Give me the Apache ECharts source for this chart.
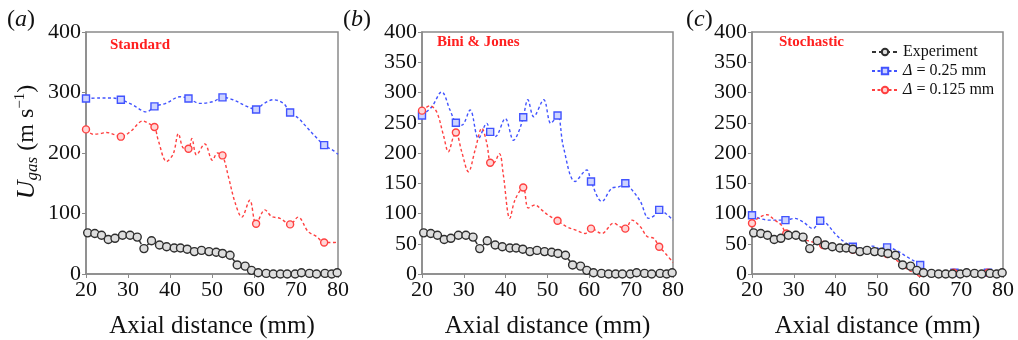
<!DOCTYPE html>
<html>
<head>
<meta charset="utf-8">
<script src="https://cdn.jsdelivr.net/npm/echarts@6/dist/echarts.min.js"></script>
<style>
  html, body { margin: 0; padding: 0; background: #fff; }
  #chart { width: 1018px; height: 340px; }
</style>
</head>
<body>
<div id="chart"></div>
<script>
// measured gas velocity (same in every panel)
const expX = [20.4, 22.1, 23.7, 25.3, 26.9, 28.7, 30.5, 32.2, 33.8, 35.6, 37.5, 39.2, 41.0, 42.5, 44.1, 45.8, 47.5, 49.3,
  51.0, 52.5, 54.3, 56.0, 57.9, 59.4, 61.0, 62.9, 64.6, 66.3, 67.9, 69.8, 71.3, 73.2, 74.9, 76.9, 78.5, 79.8];
const expY = [68, 67, 64, 57, 59, 64, 64, 61, 42, 55, 48, 45, 43, 43, 41, 37, 39, 37,
  36, 34, 31, 15, 13, 6, 2, 1, 0, 0, 0, 0, 2, 1, 0, 1, 0, 2];

// (a) Standard
const aBlueX = [20, 23.3, 26, 28.3, 31, 34.4, 36.3, 39, 42.4, 44.4, 47.1, 50.3, 52.5, 55, 58.3, 60.5, 62.2, 64.6, 67, 68.6, 70.5, 72.5, 74.5, 76.7, 78.9, 80];
const aBlueY = [290, 291, 291, 288, 280, 268, 277, 282, 293, 290, 282, 285, 292, 288, 277, 272, 281, 288, 282, 267, 258, 243, 228, 213, 204, 198];
const aBlueMarks = [20, 28.3, 36.3, 44.4, 52.5, 60.5, 68.6, 76.7];
const aRedX = [20, 21.7, 23.3, 24.9, 26.9, 28.3, 30.5, 33.6, 34.8, 36.3, 37.2, 39.2, 40.8, 42, 43.2, 44.4, 45.2, 46.3, 48.3, 50.1, 51.3, 52.5,
  53.9, 55.5, 57.1, 59, 60.5, 62.6, 64.2, 66.2, 68.6, 70.5, 72.9, 74.9, 76.7, 79, 80];
const aRedY = [239, 231, 232, 234, 230, 227, 235, 253, 249, 243, 221, 186, 199, 232, 208, 207, 224, 197, 215, 188, 200, 196,
  161, 118, 94, 122, 83, 106, 95, 92, 82, 94, 70, 62, 52, 52, 53];
const aRedMarks = [20, 28.3, 36.3, 44.4, 52.5, 60.5, 68.6, 76.7];

// (b) Bini & Jones
const bBlueX = [20, 22.3, 24.7, 26.7, 28.1, 29.5, 31.5, 33.5, 35.5, 36.3, 37.5, 39.9, 41.9, 43.1, 44.2, 45.3, 46.7, 49.1, 50.8, 52.4,
  53.8, 56.6, 59.4, 60.4, 63, 65.4, 67, 68.6, 70.2, 72.2, 74.2, 75.8, 76.7, 78.6, 80];
const bBlueY = [262, 276, 301, 271, 250, 246, 271, 224, 249, 235, 227, 257, 221, 235, 259, 288, 260, 288, 249, 262,
  210, 153, 172, 153, 120, 142, 144, 150, 139, 120, 92, 98, 106, 98, 89];
const bBlueMarks = [20, 28.1, 36.3, 44.2, 52.4, 60.4, 68.6, 76.7];
const bRedX = [20, 21.9, 23.5, 25.1, 26.3, 27.5, 28.1, 29.5, 31.1, 32.7, 34.3, 35.5, 36.3, 37, 38.5, 39.4, 41, 42.2, 44.2, 45.4, 47, 48.6,
  50.2, 52.4, 54.6, 56.6, 59, 60.4, 63, 65.8, 67.4, 68.6, 70.2, 72.2, 73.8, 75.4, 76.7, 78.2, 80];
const bRedY = [270, 278, 268, 230, 202, 227, 234, 202, 169, 205, 241, 216, 184, 183, 199, 166, 92, 122, 143, 109, 114, 106,
  97, 88, 78, 73, 67, 75, 67, 84, 78, 75, 89, 78, 62, 59, 45, 34, 19];
const bRedMarks = [20, 28.1, 36.3, 44.2, 52.4, 60.4, 68.6, 76.7];

// (c) Stochastic
const cBlueX = [20, 21.8, 24.2, 28, 30.2, 32.2, 34.6, 36.3, 37.7, 40.2, 42.5, 44.1, 46.6, 48.9, 50.5, 52.3, 54.5, 56.9, 60.2, 62.1, 64.9, 68.4, 72, 76.4, 80];
const cBlueY = [97, 92, 89, 89, 92, 86, 75, 88, 84, 64, 51, 45, 42, 46, 42, 44, 39, 29, 15, 4, 2, 2, 2, 2, 2];
const cBlueMarks = [20, 28, 36.3, 44.1, 52.3, 60.2, 68.4, 76.4];
const cRedX = [20, 21.4, 23.6, 25.4, 27, 28.2, 30.2, 33, 35.4, 37, 40.2, 42.5, 44.1, 47.3, 49.7, 52.3, 54.5, 56.9, 59.3, 60.2, 64.9, 68.2, 72, 76.4, 80];
const cRedY = [84, 92, 98, 89, 81, 67, 64, 56, 51, 48, 45, 42, 40, 37, 35, 33, 23, 9, 2, 2, 1, 2, 1, 2, 1];
const cRedMarks = [20, 28.2, 37, 44.1, 52.3, 60.2, 68.2, 76.4];

const xTicks = [20, 30, 40, 50, 60, 70, 80];
const panelLetters = ['a', 'b', 'c'];
const modelNames = ['Standard', 'Bini & Jones', 'Stochastic'];
const seriesNames = ['Experiment', 'Δ = 0.25 mm', 'Δ = 0.125 mm'];

const FONT = 'Liberation Serif';
const FRAME = '#8a8a8a';
const BLUE = '#4153ff';
const RED = '#ff4040';

const chart = echarts.init(document.getElementById('chart'));

const grids = [
  { left: 86, top: 32, width: 252, height: 242 },
  { left: 422, top: 32, width: 251, height: 242 },
  { left: 752, top: 32, width: 251, height: 242 }
];

function pairs(xs, ys, marks) {
  return xs.map((x, i) => {
    const item = { value: [x, ys[i]] };
    if (marks && !marks.includes(x)) item.symbol = 'none';
    return item;
  });
}

function expSeries(idx) {
  return {
    name: seriesNames[0], type: 'line', xAxisIndex: idx, yAxisIndex: idx,
    data: pairs(expX, expY), symbol: 'circle', symbolSize: 8, z: 3,
    lineStyle: { color: '#333', width: 1.5, type: [4, 3] },
    itemStyle: { color: '#dedede', borderColor: '#2e2e2e', borderWidth: 1.4 }
  };
}

function modelSeries(idx, name, xs, ys, marks, color, fill, symbol) {
  return {
    name: name, type: 'line', xAxisIndex: idx, yAxisIndex: idx,
    data: pairs(xs, ys, marks), smooth: 0.35, symbol: symbol, symbolSize: 7, z: 2,
    lineStyle: { color: color, width: 1.4, type: [3, 2.5] },
    itemStyle: { color: fill, borderColor: color, borderWidth: 1.4 }
  };
}

const series = [
  expSeries(0),
  modelSeries(0, seriesNames[1], aBlueX, aBlueY, aBlueMarks, BLUE, '#cdd3ff', 'rect'),
  modelSeries(0, seriesNames[2], aRedX, aRedY, aRedMarks, RED, '#ffd6d6', 'circle'),
  expSeries(1),
  modelSeries(1, seriesNames[1], bBlueX, bBlueY, bBlueMarks, BLUE, '#cdd3ff', 'rect'),
  modelSeries(1, seriesNames[2], bRedX, bRedY, bRedMarks, RED, '#ffd6d6', 'circle'),
  expSeries(2),
  modelSeries(2, seriesNames[1], cBlueX, cBlueY, cBlueMarks, BLUE, '#cdd3ff', 'rect'),
  modelSeries(2, seriesNames[2], cRedX, cRedY, cRedMarks, RED, '#ffd6d6', 'circle')
];

const xAxes = grids.map((g, i) => ({
  type: 'value', gridIndex: i, min: xTicks[0], max: xTicks[xTicks.length - 1], interval: 10,
  name: 'Axial distance (mm)', nameLocation: 'middle', nameGap: 40,
  nameTextStyle: { fontFamily: FONT, fontSize: 25, color: '#111' },
  axisLine: { show: true, lineStyle: { color: FRAME, width: 1.5 } },
  axisTick: { show: true, length: 4, lineStyle: { color: FRAME } },
  axisLabel: { fontFamily: FONT, fontSize: 22, color: '#111', margin: 5 },
  splitLine: { show: false }
}));

const yAxes = grids.map((g, i) => ({
  type: 'value', gridIndex: i, min: 0, max: 400, interval: i === 0 ? 100 : 50,
  axisLine: { show: true, lineStyle: { color: FRAME, width: 1.5 } },
  axisTick: { show: true, length: 4, lineStyle: { color: FRAME } },
  axisLabel: { fontFamily: FONT, fontSize: 22, color: '#111', margin: 5 },
  splitLine: { show: false }
}));

const graphics = [];
const letterPos = [[7, 8], [343, 8], [686, 8]];
panelLetters.forEach((l, i) => {
  graphics.push({
    type: 'text', left: letterPos[i][0], top: letterPos[i][1],
    style: {
      text: '(' + '{i|' + l + '})', fill: '#111', font: '24px "Liberation Serif"',
      rich: { i: { fontFamily: FONT, fontSize: 24, fontStyle: 'italic', fill: '#111' } }
    }
  });
});
const modelPos = [[110, 38], [437, 35], [779, 35]];
modelNames.forEach((m, i) => {
  graphics.push({
    type: 'text', left: modelPos[i][0], top: modelPos[i][1],
    style: { text: m, fill: '#ff2020', font: 'bold 15px "Liberation Serif"' }
  });
});
// y-axis title, rotated
graphics.push({
  type: 'text', x: 27, y: 142, rotation: Math.PI / 2,
  style: {
    text: '{u|U}{s|gas} (m s{p|−1})', align: 'center', verticalAlign: 'middle',
    font: '24px "Liberation Serif"', fill: '#111',
    rich: {
      u: { fontFamily: FONT, fontSize: 26, fontStyle: 'italic', fill: '#111', lineHeight: 28, verticalAlign: 'middle' },
      s: { fontFamily: FONT, fontSize: 17, fontStyle: 'italic', fill: '#111', verticalAlign: 'bottom', lineHeight: 28, padding: [10, 0, 0, 0] },
      p: { fontFamily: FONT, fontSize: 15, fill: '#111', verticalAlign: 'top', lineHeight: 28, padding: [0, 0, 12, 0] }
    }
  }
});

chart.setOption({
  animation: false,
  grid: grids.map(g => Object.assign({
    show: true, borderColor: FRAME, borderWidth: 1.5, backgroundColor: 'transparent',
    containLabel: false, outerBoundsMode: 'none'
  }, g)),
  xAxis: xAxes,
  yAxis: yAxes,
  legend: {
    data: seriesNames, left: 866, top: 39, orient: 'vertical',
    itemWidth: 26, itemHeight: 8, itemGap: 3,
    textStyle: { fontFamily: FONT, fontSize: 16, color: '#111', rich: { i: { fontFamily: FONT, fontSize: 16, fontStyle: 'italic', color: '#111' } } },
    formatter: name => name.charAt(0) === 'Δ' ? '{i|Δ}' + name.slice(1) : name
  },
  graphic: graphics,
  series: series
});
</script>
</body>
</html>
